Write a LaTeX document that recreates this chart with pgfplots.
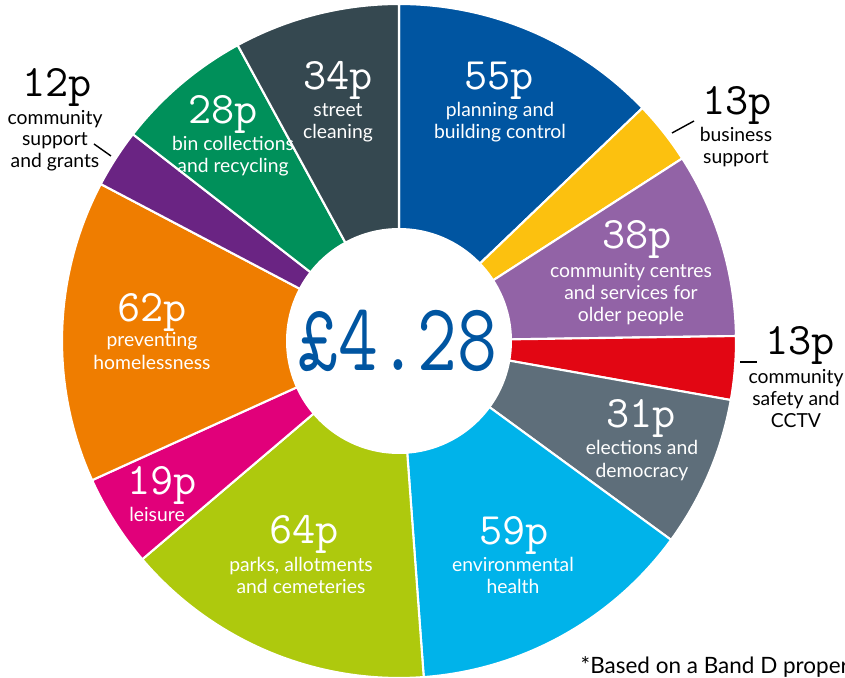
\documentclass[border=0pt]{standalone}
\usepackage{fontspec}
\setmainfont{Lato}
\usepackage{graphicx}
\usepackage{pgfplots}
\usepackage{pgfplotstable}
\pgfplotsset{compat=1.18}

\definecolor{cPlan}{RGB}{0,85,161}
\definecolor{cBiz}{RGB}{252,193,15}
\definecolor{cCentre}{RGB}{146,99,166}
\definecolor{cSafety}{RGB}{226,6,19}
\definecolor{cElect}{RGB}{94,110,122}
\definecolor{cEnv}{RGB}{0,179,234}
\definecolor{cParks}{RGB}{174,201,13}
\definecolor{cLeis}{RGB}{225,0,122}
\definecolor{cHome}{RGB}{239,125,0}
\definecolor{cSupp}{RGB}{106,36,131}
\definecolor{cBin}{RGB}{0,144,90}
\definecolor{cStreet}{RGB}{53,72,80}

% pence per slice, clockwise from 12 o'clock
\pgfplotstableread{
value colour
55 cPlan
13 cBiz
38 cCentre
13 cSafety
31 cElect
59 cEnv
64 cParks
19 cLeis
62 cHome
12 cSupp
28 cBin
34 cStreet
}\slices

\newcommand{\lblfont}{\fontsize{5.5}{6.5}\selectfont}
\newcommand{\numfont}{\ttfamily\addfontfeatures{FakeBold=0.8}\fontsize{12.8}{13}\selectfont}
\newcommand{\txt}[4][white]{\node[anchor=base, text=#1, font=\lblfont, inner sep=0pt] at (axis cs:#2,-#3) {#4};}
\newcommand{\bignum}[4][white]{\node[anchor=base, text=#1, inner sep=0pt] at (axis cs:#2,-#3) {\numfont #4};}

\begin{document}
\begin{tikzpicture}
\begin{axis}[
  width=8.45cm, height=6.78cm, scale only axis,
  xmin=0, xmax=845, ymin=-678, ymax=0,
  hide axis, clip=false,
]
% total
\gdef\total{0}
\pgfplotsinvokeforeach{0,...,11}{
  \pgfplotstablegetelem{#1}{value}\of\slices
  \pgfmathsetmacro\tmpsum{\total+\pgfplotsretval}
  \xdef\total{\tmpsum}
}
% wedges
\gdef\cum{0}
\pgfplotsinvokeforeach{0,...,11}{
  \pgfplotstablegetelem{#1}{value}\of\slices \let\sval\pgfplotsretval
  \pgfplotstablegetelem{#1}{colour}\of\slices \let\scol\pgfplotsretval
  \pgfmathsetmacro\sa{90-\cum/\total*360}
  \pgfmathsetmacro\sb{90-(\cum+\sval)/\total*360}
  \pgfmathsetmacro\newcum{\cum+\sval}
  \xdef\cum{\newcum}
  \edef\tmp{\noexpand\filldraw[fill=\scol, draw=white, line width=0.6pt, line join=round]
    (axis cs:399,-341) -- ++(\sa:3.37cm) arc[start angle=\sa, end angle=\sb, radius=3.37cm] -- cycle;}
  \tmp
}
\fill[white] (axis cs:399,-341) circle[radius=1.13cm];

\node[anchor=base, text=cPlan, inner sep=0pt] at (axis cs:398,-371)
  {\scalebox{0.8}[1]{\ttfamily\addfontfeatures{FakeBold=1.2}\fontsize{27.5}{28}\selectfont £4.28}};

% labels inside the ring
\bignum{499}{90}{55p}
\txt{500}{117}{planning and}
\txt{500}{139}{building control}

\bignum{637}{249}{38p}
\txt{631}{278}{community centres}
\txt{631}{300}{and services for}
\txt{631}{322}{older people}

\bignum{641}{428}{31p}
\txt{642}{455}{elections and}
\txt{642}{478}{democracy}

\bignum{514}{545}{59p}
\txt{513}{572}{environmental}
\txt{513}{594}{health}

\bignum{304}{544}{64p}
\txt{301}{571}{parks, allotments}
\txt{301}{594}{and cemeteries}

\bignum{162}{495}{19p}
\txt{157}{522}{leisure}

\bignum{152}{322}{62p}
\txt{152}{347}{preventing}
\txt{152}{370}{homelessness}

\bignum{223}{124}{28p}
\txt{233}{151}{bin collections}
\txt{233}{173}{and recycling}

\bignum{338}{90}{34p}
\txt{338}{117}{street}
\txt{338}{139}{cleaning}

% labels outside the ring
\bignum[black]{57}{97}{12p}
\txt[black]{55}{125}{community}
\txt[black]{55}{146}{support}
\txt[black]{55}{168}{and grants}
\draw[black, line width=0.4pt] (axis cs:94,-144) -- (axis cs:111,-156);

\bignum[black]{737}{115}{13p}
\txt[black]{736}{142}{business}
\txt[black]{736}{164}{support}
\draw[black, line width=0.4pt] (axis cs:672,-133) -- (axis cs:694,-121);

\bignum[black]{800}{355}{13p}
\txt[black]{796}{384}{community}
\txt[black]{796}{406}{safety and}
\txt[black]{796}{428}{CCTV}
\draw[black, line width=0.4pt] (axis cs:740,-362) -- (axis cs:757,-362);

\node[anchor=base west, font=\fontsize{6.4}{7}\selectfont, inner sep=0pt] at (axis cs:580,-673) {*Based on a Band D property};
\end{axis}
\pgfresetboundingbox
\path[use as bounding box] (current axis.south west) rectangle (current axis.north east);
\end{tikzpicture}
\end{document}
